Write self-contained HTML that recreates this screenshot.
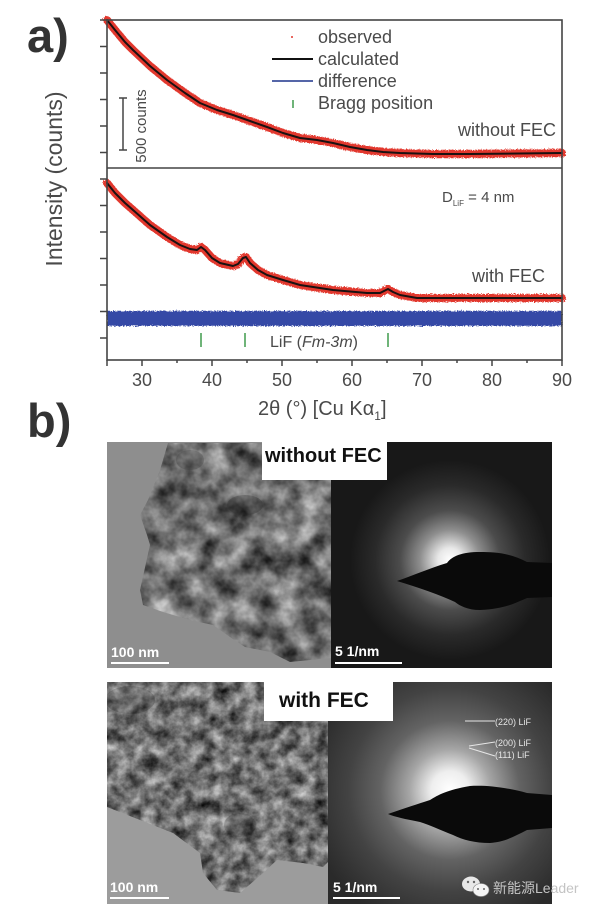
<!DOCTYPE html>
<html><head><meta charset="utf-8"><style>
html,body{margin:0;padding:0;background:#fff;}
svg{display:block;}
text{font-family:"Liberation Sans","Noto Sans CJK SC",sans-serif;}
</style></head><body>
<svg width="600" height="915" viewBox="0 0 600 915" xmlns="http://www.w3.org/2000/svg">
<defs>
  <filter id="texA" filterUnits="userSpaceOnUse" x="107" y="442" width="224" height="226" color-interpolation-filters="sRGB">
    <feTurbulence type="fractalNoise" baseFrequency="0.04" numOctaves="4" seed="7"/>
    <feColorMatrix type="matrix" values="1.0 0 0 0 -0.07  1.0 0 0 0 -0.07  1.0 0 0 0 -0.07  0 0 0 0 1"/>
  </filter>
  <filter id="texB" filterUnits="userSpaceOnUse" x="107" y="682" width="224" height="222" color-interpolation-filters="sRGB">
    <feTurbulence type="fractalNoise" baseFrequency="0.07" numOctaves="4" seed="11"/>
    <feColorMatrix type="matrix" values="0.95 0 0 0 -0.04  0.95 0 0 0 -0.04  0.95 0 0 0 -0.04  0 0 0 0 1"/>
  </filter>
  <filter id="fuzz" x="-5%" y="-20%" width="110%" height="140%">
    <feTurbulence type="fractalNoise" baseFrequency="0.9" numOctaves="1" seed="3" result="n"/>
    <feDisplacementMap in="SourceGraphic" in2="n" scale="5"/>
  </filter>
  <clipPath id="matA"><path d="M168,443 L331,443 L331,658 L310,660 L290,662 L270,652 L245,647 L230,637 L213,625 L190,620 L163,612 L143,605 L140,590 L150,545 L147,535 L140,515 L148,500 L160,470 Z"/></clipPath>
  <clipPath id="matB"><path d="M107,682 L330,682 L330,860 L323,867 L303,863 L277,860 L263,873 L240,893 L217,890 L203,873 L200,853 L173,833 L140,820 L107,807 Z"/></clipPath>
  <radialGradient id="glowA" gradientUnits="userSpaceOnUse" cx="450" cy="560" r="100">
    <stop offset="0" stop-color="#ffffff"/>
    <stop offset="0.12" stop-color="#e8e8e8"/>
    <stop offset="0.3" stop-color="#8e8e8e"/>
    <stop offset="0.5" stop-color="#4c4c4c"/>
    <stop offset="0.75" stop-color="#2a2a2a"/>
    <stop offset="1" stop-color="#181818"/>
  </radialGradient>
  <radialGradient id="glowB" gradientUnits="userSpaceOnUse" cx="450" cy="790" r="145">
    <stop offset="0" stop-color="#ffffff"/>
    <stop offset="0.13" stop-color="#eeeeee"/>
    <stop offset="0.28" stop-color="#a6a6a6"/>
    <stop offset="0.48" stop-color="#636363"/>
    <stop offset="0.7" stop-color="#434343"/>
    <stop offset="0.9" stop-color="#323232"/>
    <stop offset="1" stop-color="#2a2a2a"/>
  </radialGradient>
</defs>

<!-- ===== Panel a ===== -->
<text x="27" y="52" font-size="47" font-weight="bold" fill="#333">a)</text>

<text x="62" y="179" font-size="23" fill="#4a4a4a" text-anchor="middle" transform="rotate(-90 62 179)">Intensity (counts)</text>

<g fill="none" stroke-linejoin="round" stroke-linecap="round">
  <polyline filter="url(#fuzz)" stroke="#e2372d" stroke-width="8" points="107,20 115,30 125,42 133,50 150,66 167,80 185,93 200,103 217,110 233,115 250,121 267,127 283,133 300,138 317,140 333,143 350,147 367,150 383,152 400,153 433,154 470,154 562,153"/>
  <polyline stroke="#1a1111" stroke-width="2" points="107,20 115,30 125,42 133,50 150,66 167,80 185,93 200,103 217,110 233,115 250,121 267,127 283,133 300,138 317,140 333,143 350,147 367,150 383,152 400,153 433,154 470,154 562,153"/>
  <polyline filter="url(#fuzz)" stroke="#e2372d" stroke-width="8" points="107,183 115,193 125,203 133,210 150,225 167,237 180,245 190,249 197,250 201,247 205,250 212,258 220,263 233,266 238,264 243,258 246,257 250,263 258,270 267,275 283,280 300,285 333,290 367,293 380,293 388,289 393,292 400,295 417,298 467,298 562,298"/>
  <polyline stroke="#1a1111" stroke-width="2" points="107,183 115,193 125,203 133,210 150,225 167,237 180,245 190,249 197,250 201,247 205,250 212,258 220,263 233,266 238,264 243,258 246,257 250,263 258,270 267,275 283,280 300,285 333,290 367,293 380,293 388,289 393,292 400,295 417,298 467,298 562,298"/>
</g>
<rect x="107" y="311" width="455" height="15" fill="#3448a6" filter="url(#fuzz)"/>

<g stroke="#3f9a4c" stroke-width="1.5">
  <line x1="201" y1="333" x2="201" y2="347"/>
  <line x1="245" y1="333" x2="245" y2="347"/>
  <line x1="388" y1="333" x2="388" y2="347"/>
</g>
<text x="270" y="347" font-size="16" fill="#4a4a4a">LiF (<tspan font-style="italic">Fm-3m</tspan>)</text>

<rect x="107" y="20" width="455" height="340" fill="none" stroke="#444" stroke-width="1.6"/>
<line x1="107" y1="168" x2="562" y2="168" stroke="#444" stroke-width="1.6"/>

<g stroke="#444" stroke-width="1.5">
  <line x1="100" y1="20" x2="107" y2="20"/>
  <line x1="100" y1="46.5" x2="107" y2="46.5"/>
  <line x1="100" y1="73" x2="107" y2="73"/>
  <line x1="100" y1="99.5" x2="107" y2="99.5"/>
  <line x1="100" y1="126" x2="107" y2="126"/>
  <line x1="100" y1="152.5" x2="107" y2="152.5"/>
  <line x1="100" y1="179" x2="107" y2="179"/>
  <line x1="100" y1="205.5" x2="107" y2="205.5"/>
  <line x1="100" y1="232" x2="107" y2="232"/>
  <line x1="100" y1="258.5" x2="107" y2="258.5"/>
  <line x1="100" y1="285" x2="107" y2="285"/>
  <line x1="100" y1="311.5" x2="107" y2="311.5"/>
  <line x1="100" y1="338" x2="107" y2="338"/>
</g>
<g stroke="#444" stroke-width="1.5">
  <line x1="107" y1="360" x2="107" y2="366"/>
  <line x1="142" y1="360" x2="142" y2="366"/>
  <line x1="212" y1="360" x2="212" y2="366"/>
  <line x1="282" y1="360" x2="282" y2="366"/>
  <line x1="352" y1="360" x2="352" y2="366"/>
  <line x1="422" y1="360" x2="422" y2="366"/>
  <line x1="492" y1="360" x2="492" y2="366"/>
  <line x1="562" y1="360" x2="562" y2="366"/>
  <line x1="177" y1="360" x2="177" y2="363"/>
  <line x1="247" y1="360" x2="247" y2="363"/>
  <line x1="317" y1="360" x2="317" y2="363"/>
  <line x1="387" y1="360" x2="387" y2="363"/>
  <line x1="457" y1="360" x2="457" y2="363"/>
  <line x1="527" y1="360" x2="527" y2="363"/>
</g>
<g font-size="18" fill="#4a4a4a" text-anchor="middle">
  <text x="142" y="386">30</text>
  <text x="212" y="386">40</text>
  <text x="282" y="386">50</text>
  <text x="352" y="386">60</text>
  <text x="422" y="386">70</text>
  <text x="492" y="386">80</text>
  <text x="562" y="386">90</text>
</g>
<text x="258" y="415" font-size="20" fill="#4a4a4a">2θ (°) [Cu Kα<tspan font-size="12" dy="5">1</tspan><tspan dy="-5">]</tspan></text>

<circle cx="292" cy="37" r="1" fill="#e2372d"/>
<line x1="272" y1="59" x2="313" y2="59" stroke="#111" stroke-width="2"/>
<line x1="272" y1="81" x2="313" y2="81" stroke="#5566a8" stroke-width="2"/>
<line x1="293" y1="100" x2="293" y2="108" stroke="#3f9a4c" stroke-width="1.5"/>
<g font-size="18" fill="#4a4a4a">
  <text x="318" y="43">observed</text>
  <text x="318" y="65">calculated</text>
  <text x="318" y="87">difference</text>
  <text x="318" y="109">Bragg position</text>
  <text x="458" y="136">without FEC</text>
  <text x="472" y="282">with FEC</text>
</g>
<text x="442" y="202" font-size="15" fill="#4a4a4a">D<tspan font-size="8" dy="4">LiF</tspan><tspan dy="-4"> = 4 nm</tspan></text>

<g stroke="#444" stroke-width="1.5">
  <line x1="123" y1="98" x2="123" y2="150"/>
  <line x1="119" y1="98" x2="127" y2="98"/>
  <line x1="119" y1="150" x2="127" y2="150"/>
</g>
<text x="146" y="126" font-size="15" fill="#4a4a4a" text-anchor="middle" transform="rotate(-90 146 126)">500 counts</text>

<!-- ===== Panel b ===== -->
<text x="27" y="437" font-size="47" font-weight="bold" fill="#333">b)</text>

<rect x="107" y="442" width="224" height="226" fill="#8e8e8e"/>
<rect x="107" y="442" width="224" height="226" filter="url(#texA)" clip-path="url(#matA)"/>
<g clip-path="url(#matA)" fill="#2e2e2e">
  <ellipse cx="245" cy="505" rx="18" ry="10" opacity="0.3"/>
  <ellipse cx="190" cy="460" rx="14" ry="10" opacity="0.25"/>
</g>
<rect x="331" y="442" width="221" height="226" fill="url(#glowA)"/>
<path d="M397,581 C412,576 430,568 447,563 C452,556 462,552 480,552 C495,552 510,553 527,562 L552,563 L552,597 L527,598 C515,603 505,609 480,610 C468,610 460,606 455,602 C440,595 420,588 397,581 Z" fill="#0a0a0a"/>

<rect x="262" y="442" width="125" height="38" fill="#fff"/>
<text x="265" y="462" font-size="20" font-weight="bold" fill="#111">without FEC</text>

<text x="111" y="657" font-size="14" font-weight="bold" fill="#fff">100 nm</text>
<line x1="111" y1="663" x2="169" y2="663" stroke="#fff" stroke-width="2"/>
<text x="335" y="656" font-size="14" font-weight="bold" fill="#fff">5 1/nm</text>
<line x1="335" y1="663" x2="402" y2="663" stroke="#fff" stroke-width="2"/>

<rect x="107" y="682" width="224" height="222" fill="#9c9c9c"/>
<rect x="107" y="682" width="224" height="222" filter="url(#texB)" clip-path="url(#matB)"/>
<g clip-path="url(#matB)" fill="#2a2a2a">
  <ellipse cx="130" cy="700" rx="25" ry="14" opacity="0.25"/>
  <ellipse cx="240" cy="825" rx="16" ry="12" opacity="0.2"/>
</g>
<rect x="328" y="682" width="224" height="222" fill="url(#glowB)"/>
<path d="M388,814 C405,808 418,804 430,800 C438,795 447,790 470,786 C485,785 505,787 527,793 L552,795 L552,828 L527,830 C515,836 505,842 490,843 C475,843 463,840 453,835 C440,830 430,825 420,822 C405,819 395,817 388,814 Z" fill="#0a0a0a"/>

<g stroke="#e6e6e6" stroke-width="1">
  <line x1="465" y1="721" x2="495" y2="721"/>
  <line x1="469" y1="746" x2="495" y2="742"/>
  <line x1="469" y1="748" x2="495" y2="756"/>
</g>
<g font-size="9" fill="#e6e6e6">
  <text x="495" y="725">(220) LiF</text>
  <text x="495" y="746">(200) LiF</text>
  <text x="495" y="758">(111) LiF</text>
</g>

<rect x="264" y="682" width="129" height="39" fill="#fff"/>
<text x="279" y="707" font-size="21" font-weight="bold" fill="#111">with FEC</text>

<text x="110" y="892" font-size="14" font-weight="bold" fill="#fff">100 nm</text>
<line x1="110" y1="898" x2="169" y2="898" stroke="#fff" stroke-width="2"/>
<text x="333" y="892" font-size="14" font-weight="bold" fill="#fff">5 1/nm</text>
<line x1="333" y1="898" x2="400" y2="898" stroke="#fff" stroke-width="2"/>

<g>
  <ellipse cx="471" cy="884" rx="9" ry="7.5" fill="#e8e8e8"/>
  <ellipse cx="481" cy="890" rx="8" ry="6.5" fill="#f4f4f4" stroke="#888" stroke-width="0.6"/>
  <circle cx="468" cy="882" r="1.2" fill="#666"/>
  <circle cx="474" cy="882" r="1.2" fill="#666"/>
  <circle cx="478" cy="889" r="1" fill="#666"/>
  <circle cx="484" cy="889" r="1" fill="#666"/>
</g>
<text x="493" y="893" font-size="14" fill="#c4c4c4">新能源Leader</text>
</svg>
</body></html>
